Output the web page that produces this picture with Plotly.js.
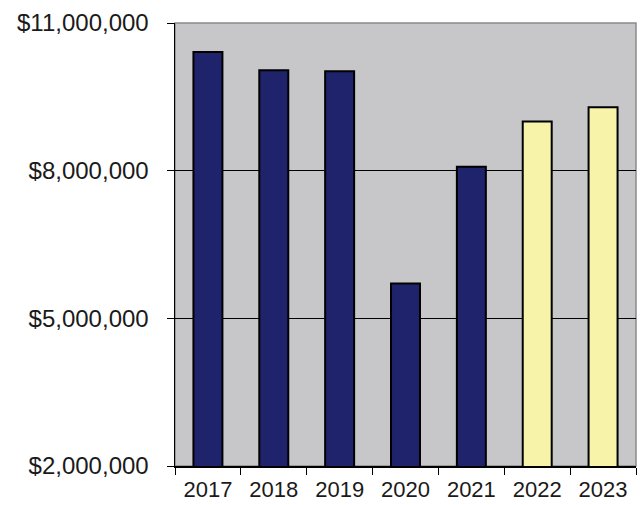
<!DOCTYPE html>
<html>
<head>
<meta charset="utf-8">
<script src="https://cdn.plot.ly/plotly-3.0.1.min.js"></script>
<style>html,body{margin:0;padding:0;background:#fff;}#chart{width:641px;height:505px;}</style>
</head>
<body>
<div id="chart"></div>
<script>
var years = ['2017','2018','2019','2020','2021','2022','2023'];
var actualYears = ['2017','2018','2019','2020','2021'];
var actualValues = [10410000, 10040000, 10020000, 5710000, 8080000];
var projectedYears = ['2022','2023'];
var projectedValues = [9000000, 9290000];
var yTicks = [2000000, 5000000, 8000000, 11000000];

var traces = [
  {type:'bar', x: actualYears, y: actualValues, width:0.44,
   marker:{color:'#1f236c', line:{color:'#000', width:2}}, hoverinfo:'none'},
  {type:'bar', x: projectedYears, y: projectedValues, width:0.44,
   marker:{color:'#f7f3a8', line:{color:'#000', width:2}}, hoverinfo:'none'}
];
var layout = {
  width:641, height:505,
  margin:{l:175, r:5, t:23, b:39},
  paper_bgcolor:'#ffffff', plot_bgcolor:'#c7c7c9',
  showlegend:false, barmode:'overlay',
  font:{family:'Liberation Sans, Arial, sans-serif', color:'#000'},
  xaxis:{type:'category', categoryorder:'array', categoryarray: years,
    showline:true, linecolor:'#000', linewidth:1.5,
    ticks:'outside', ticklen:7, tickcolor:'#000', tickson:'boundaries',
    ticklabelstandoff:3,
    tickfont:{size:22, color:'#1a1a1a'}, showgrid:false, zeroline:false},
  yaxis:{range:[2000000, 11000000], tickvals: yTicks, tickformat:'$,d',
    showline:true, linecolor:'#000', linewidth:1.5,
    ticks:'outside', ticklen:7, tickcolor:'#000', ticklabelstandoff:13,
    tickfont:{size:24, color:'#1a1a1a'},
    showgrid:true, gridcolor:'#000', gridwidth:1, zeroline:false},
  shapes:[{type:'rect', xref:'paper', yref:'paper', x0:0, x1:1, y0:0, y1:1,
    line:{color:'#8a8a8a', width:1.5}, layer:'below'}]
};
Plotly.newPlot('chart', traces, layout, {staticPlot:true, displayModeBar:false});
</script>
</body>
</html>
